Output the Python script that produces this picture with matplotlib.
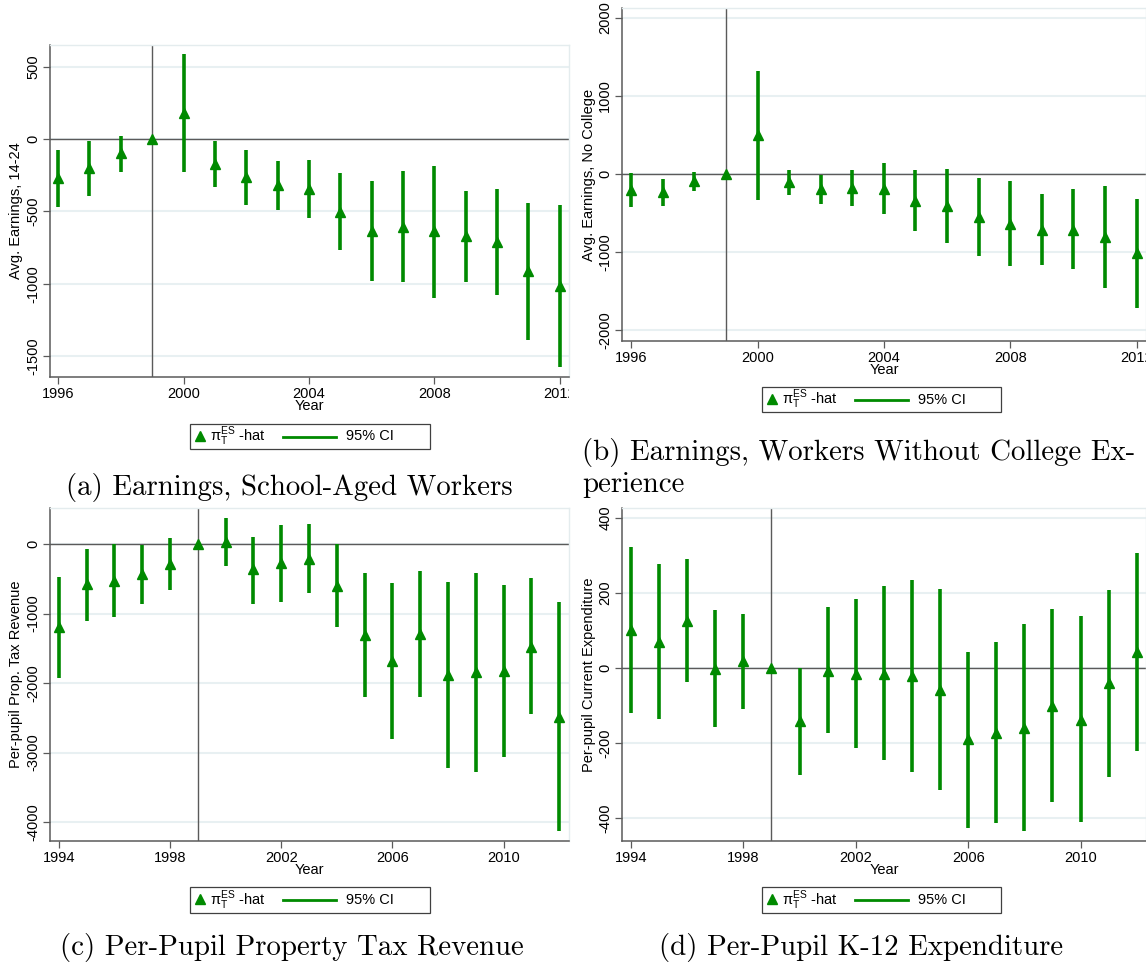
import matplotlib
matplotlib.use("Agg")
import matplotlib.pyplot as plt
from matplotlib.lines import Line2D
from matplotlib.patches import Rectangle
from matplotlib.transforms import Bbox, TransformedBbox

plt.rcParams['font.family'] = ['Liberation Sans', 'DejaVu Sans']
plt.rcParams['axes.unicode_minus'] = False
plt.rcParams['mathtext.fontset'] = 'custom'
plt.rcParams['mathtext.rm'] = 'Liberation Sans'

W, H = 1146, 966

# ---------------- data ----------------
years_a = list(range(1996, 2013))
est_a = [-271, -202, -99, 0, 182, -172, -264, -315, -345, -501, -634, -605, -639, -669, -710, -915, -1014]
lo_a = [-471, -393, -225, 0, -225, -329, -457, -490, -547, -770, -982, -991, -1099, -986, -1076, -1391, -1575]
hi_a = [-76, -14, 23, 0, 586, -11, -76, -149, -145, -232, -287, -218, -184, -356, -347, -439, -453]

years_b = list(range(1996, 2013))
est_b = [-200, -230, -94, 0, 503, -102, -192, -183, -188, -341, -405, -550, -635, -712, -712, -806, -1019]
lo_b = [-422, -414, -222, 0, -328, -269, -380, -414, -512, -733, -883, -1053, -1181, -1164, -1224, -1458, -1714]
hi_b = [13, -64, 21, 0, 1322, 55, -9, 51, 141, 51, 60, -51, -85, -252, -188, -149, -316]

years_c = list(range(1994, 2013))
est_c = [-1199, -580, -528, -432, -288, 0, 34, -365, -278, -216, -604, -1305, -1683, -1295, -1885, -1847, -1827, -1477, -2484]
lo_c = [-1923, -1103, -1046, -859, -662, 0, -312, -859, -839, -705, -1199, -2197, -2801, -2206, -3228, -3276, -3060, -2451, -4129]
hi_c = [-470, -77, -5, -14, 82, 0, 369, 106, 273, 288, 0, -422, -566, -388, -542, -422, -590, -494, -835]

years_d = list(range(1994, 2013))
est_d = [102, 71, 127, -1, 19, 0, -140, -7, -15, -15, -22, -58, -189, -173, -159, -100, -138, -40, 44]
lo_d = [-120, -135, -38, -158, -108, 0, -284, -173, -214, -246, -278, -324, -425, -413, -434, -357, -409, -289, -220]
hi_d = [324, 277, 291, 156, 145, 0, 0, 163, 184, 218, 235, 211, 44, 71, 117, 157, 138, 209, 307]

xticks_ab = [1996, 2000, 2004, 2008, 2012]
xticks_cd = [1994, 1998, 2002, 2006, 2010]
yticks_a = [500, 0, -500, -1000, -1500]
yticks_b = [2000, 1000, 0, -1000, -2000]
yticks_c = [0, -1000, -2000, -3000, -4000]
yticks_d = [400, 200, 0, -200, -400]

ylabel_a = "Avg. Earnings, 14-24"
ylabel_b = "Avg. Earnings, No College"
ylabel_c = "Per-pupil Prop. Tax Revenue"
ylabel_d = "Per-pupil Current Expenditure"

captions = ["(a) Earnings, School-Aged Workers",
            "(b) Earnings, Workers Without College Ex-\nperience",
            "(c) Per-Pupil Property Tax Revenue",
            "(d) Per-Pupil K-12 Expenditure"]

legend_est = r"π$_{\mathrm{T}}^{\mathrm{ES}}$ -hat"
legend_ci = "95% CI"
treat_year = 1999

GREEN = '#008a00'
GRID = '#e8f0f2'
AXC = '#5a5a5a'

fig = plt.figure(figsize=(W / 100, H / 100), dpi=100)


def ax_rect(l, t, r, b):
    return [l / W, 1 - b / H, (r - l) / W, (b - t) / H]


def clipbox(l, t, r, b):
    return TransformedBbox(Bbox.from_extents(l / W, 1 - b / H, r / W, 1 - t / H), fig.transFigure)


def panel(rect, xlim, ylim, years, est, lo, hi, xticks, yticks, ylabel, region):
    ax = fig.add_axes(ax_rect(*rect))
    ax.set_xlim(*xlim)
    ax.set_ylim(*ylim)
    for y in yticks:
        ax.axhline(y, color=GRID, lw=1.5, zorder=0)
    ax.axhline(0, color=AXC, lw=1.0, zorder=1)
    ax.axvline(treat_year, color=AXC, lw=1.0, zorder=1)
    ax.vlines(years, lo, hi, color=GREEN, lw=2.6, zorder=2)
    ax.plot(years, est, linestyle='none', marker='^', color=GREEN, ms=7.5, zorder=3)
    ax.set_xticks(xticks)
    ax.set_xticklabels([str(x) for x in xticks], fontsize=10.5)
    ax.set_yticks(yticks)
    ax.set_yticklabels([str(y) for y in yticks], fontsize=10.5, rotation=90, va='center')
    ax.set_xlabel("Year", fontsize=10.5, labelpad=-1)
    ax.set_ylabel(ylabel, fontsize=10.5, labelpad=2)
    ax.tick_params(axis='both', direction='out', length=5, width=0.9, color=AXC, pad=2)
    for s in ['left', 'bottom']:
        ax.spines[s].set_color(AXC)
        ax.spines[s].set_linewidth(1.1)
    for s in ['top', 'right']:
        ax.spines[s].set_color('#e4ecee')
        ax.spines[s].set_linewidth(1.0)
    cb = clipbox(*region)
    for lbl in ax.get_xticklabels() + ax.get_yticklabels():
        lbl.set_clip_on(True)
        lbl.set_clip_box(cb)
    return ax


def legend(l, t, r, b):
    fig.patches.append(Rectangle((l / W, 1 - b / H), (r - l) / W, (b - t) / H,
                                 transform=fig.transFigure, fill=False,
                                 edgecolor='#404040', lw=0.9))
    yc = 1 - (t + b) / 2 / H
    fig.lines.append(Line2D([(l + 10) / W], [yc + 1 / H], marker='^', color=GREEN, ms=6.5,
                            linestyle='none', transform=fig.transFigure))
    fig.text((l + 20) / W, yc, legend_est, fontsize=10.5, va='center', ha='left')
    fig.lines.append(Line2D([(l + 93) / W, (l + 146) / W], [yc, yc], color=GREEN, lw=2,
                            transform=fig.transFigure))
    fig.text((l + 156) / W, yc, legend_ci, fontsize=10.5, va='center', ha='left')


panel((50, 45, 569, 377), (1995.74, 2012.3), (-1644, 649), years_a, est_a, lo_a, hi_a,
      xticks_ab, yticks_a, ylabel_a, (0, 40, 569, 420))
panel((622, 8, 1146, 341), (1995.71, 2012.3), (-2141, 2128), years_b, est_b, lo_b, hi_b,
      xticks_ab, yticks_b, ylabel_b, (578, 0, 1146, 380))
panel((50, 508, 569, 841), (1993.68, 2012.35), (-4273, 518), years_c, est_c, lo_c, hi_c,
      xticks_cd, yticks_c, ylabel_c, (0, 505, 569, 880))
panel((622, 508, 1146, 841), (1993.68, 2012.33), (-461, 427), years_d, est_d, lo_d, hi_d,
      xticks_cd, yticks_d, ylabel_d, (578, 505, 1146, 880))

legend(190, 424, 430, 449)
legend(762, 387, 1001, 412)
legend(190, 887, 430, 913)
legend(762, 887, 1001, 913)

cap_kw = dict(fontfamily='cmr10', fontsize=20.8)
fig.text(289 / W, 1 - 487 / H, captions[0], ha='center', va='center', **cap_kw)
fig.text(582 / W, 1 - 468 / H, captions[1], ha='left', va='center', linespacing=1.25, **cap_kw)
fig.text(292 / W, 1 - 948 / H, captions[2], ha='center', va='center', **cap_kw)
fig.text(861 / W, 1 - 948 / H, captions[3], ha='center', va='center', **cap_kw)

fig.savefig("out.png", dpi=100, facecolor='white')
